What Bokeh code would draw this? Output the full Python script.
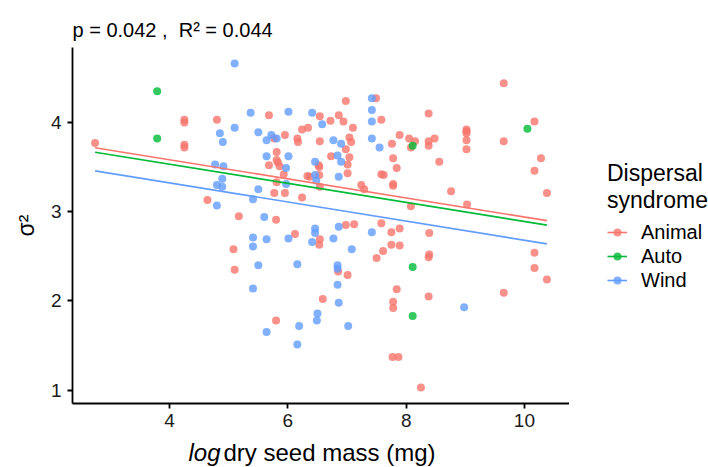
import numpy as np
from bokeh.plotting import figure
from bokeh.layouts import column, row
from bokeh.models import Range1d, Label, Legend, LegendItem, FixedTicker
from bokeh.embed import file_html
from bokeh.resources import INLINE

# ---------------- data ----------------
animal_x = [2.74, 4.25, 4.25, 4.80, 4.25, 4.25, 4.64, 5.17, 5.68, 6.54, 6.72, 6.86, 6.94, 6.98,
            7.10, 7.49, 7.58, 5.77, 5.95, 6.16, 6.17, 6.24, 6.34, 6.54, 7.04, 7.07, 6.98, 7.04,
            7.01, 7.01, 6.73, 7.76, 7.89, 7.78, 7.84, 7.58, 7.62, 7.78, 7.78, 5.81, 5.81, 5.83,
            5.68, 5.86, 5.93, 5.81, 5.77, 5.95, 6.24, 6.52, 6.53, 6.53, 6.33, 6.37, 6.54, 7.24,
            7.29, 5.80, 9.65, 8.38, 10.17, 9.02, 9.02, 9.02, 9.02, 9.65, 9.02, 8.05, 8.15, 8.08,
            8.38, 8.38, 8.48, 8.56, 10.28, 10.17, 8.76, 10.38, 9.03, 8.08, 5.08, 5.10, 6.12, 6.54,
            6.53, 6.98, 7.12, 7.58, 7.75, 7.89, 7.75, 7.61, 7.50, 6.85, 7.01, 6.59, 7.84, 7.78,
            7.78, 5.80, 7.77, 7.87, 8.39, 7.89, 8.39, 8.38, 8.38, 9.65, 10.17, 10.17, 10.38, 8.25]
animal_y = [3.77, 4.03, 4.00, 4.03, 3.75, 3.72, 3.13, 2.95, 4.08, 4.07, 4.02, 4.08, 4.01, 4.24,
            3.94, 4.27, 4.03, 3.82, 3.86, 3.82, 3.78, 3.92, 3.94, 3.79, 3.83, 3.78, 3.70, 3.61,
            3.53, 3.43, 3.62, 3.76, 3.86, 3.60, 3.49, 3.42, 3.41, 3.31, 3.29, 3.67, 3.58, 3.55,
            3.52, 3.51, 3.42, 3.33, 3.21, 3.21, 3.16, 3.52, 3.50, 3.41, 3.40, 3.39, 3.28, 3.30,
            3.25, 2.91, 4.44, 4.10, 4.01, 3.92, 3.90, 3.88, 3.80, 3.79, 3.70, 3.82, 3.79, 3.72,
            3.79, 3.74, 3.82, 3.56, 3.60, 3.46, 3.23, 3.21, 3.08, 3.06, 2.58, 2.35, 2.75, 2.69,
            2.63, 2.85, 2.86, 2.87, 2.77, 2.81, 2.63, 2.56, 2.48, 2.33, 2.29, 2.02, 2.13, 1.99,
            1.92, 1.78, 1.37, 1.37, 2.76, 2.62, 2.52, 2.49, 2.05, 2.09, 2.54, 2.37, 2.24, 1.03]

auto_x = [3.79, 3.79, 10.05, 8.11, 8.11, 8.11]
auto_y = [4.35, 3.82, 3.93, 3.74, 2.38, 1.83]

wind_x = [5.10, 4.85, 5.10, 4.90, 4.77, 4.91, 4.89, 4.80, 4.89, 4.80, 5.37, 6.01, 6.41, 6.58,
          7.42, 7.42, 7.42, 5.50, 5.64, 5.72, 5.81, 6.77, 6.90, 6.84, 6.90, 7.42, 7.55, 5.64,
          6.01, 5.97, 5.97, 5.50, 5.41, 6.46, 6.46, 6.48, 6.86, 5.60, 5.41, 5.41, 5.64, 6.01,
          6.46, 6.46, 6.41, 6.77, 6.86, 7.08, 7.42, 5.50, 6.16, 6.84, 6.84, 5.41, 6.84, 6.86,
          6.50, 6.49, 5.64, 6.19, 7.02, 6.16, 8.98]
wind_y = [4.66, 3.88, 3.94, 3.78, 3.53, 3.51, 3.37, 3.30, 3.28, 3.07, 4.11, 4.12, 4.11, 3.98,
          4.27, 4.14, 4.01, 3.89, 3.80, 3.86, 3.82, 3.80, 3.76, 3.63, 3.56, 3.82, 3.72, 3.62,
          3.62, 3.49, 3.31, 3.25, 3.14, 3.56, 3.41, 3.35, 3.39, 2.94, 2.71, 2.61, 2.69, 2.70,
          2.81, 2.76, 2.66, 2.70, 2.83, 2.58, 2.77, 2.40, 2.41, 2.40, 2.36, 2.14, 2.18, 1.98,
          1.86, 1.78, 1.65, 1.72, 1.72, 1.51, 1.93]

groups = ["Animal", "Auto", "Wind"]
fit_slope = -0.107
fit_intercepts = [4.01, 3.96, 3.75]   # Animal, Auto, Wind

x_ticks = [4, 6, 8, 10]
y_ticks = [1, 2, 3, 4]

title_text = "p = 0.042 ,\u00a0\u00a0R\u00b2 = 0.044"
x_label_italic = "log"
x_label_rest = "dry seed mass (mg)"
y_label = "\u03c3\u00b2"
legend_title = "Dispersal\nsyndrome"

# ---------------- styling ----------------
colors = ["#F8766D", "#00BA38", "#619CFF"]
FONT = "Liberation Sans"
W, H = 708, 467
LAB_H = 32                      # strip under the plot for the x-axis title
L, R, T, B = 72, 139, 47, 32
FW, FH = W - L - R, H - LAB_H - T - B
TOP_H = H - LAB_H
X0, X1 = 2.358, 10.762
Y0, Y1 = 0.85, 4.84

xs_all = [animal_x, auto_x, wind_x]
ys_all = [animal_y, auto_y, wind_y]
xmin = min(min(a) for a in xs_all)
xmax = max(max(a) for a in xs_all)


def add_series(fig):
    """Points and fitted lines of each group; returns (line, scatter) per group."""
    out = []
    for xs, ys, b0, c in zip(xs_all, ys_all, fit_intercepts, colors):
        sc = fig.scatter(xs, ys, size=8, fill_color=c, fill_alpha=0.8, line_color=None)
        out.append(sc)
    res = []
    for (b0, c), sc in zip(zip(fit_intercepts, colors), out):
        ln = fig.line([xmin, xmax], [b0 + fit_slope * xmin, b0 + fit_slope * xmax],
                      line_color=c, line_width=1.6)
        res.append((ln, sc))
    return res


# ---------------- main plot ----------------
p = figure(frame_width=FW, frame_height=FH, x_range=Range1d(X0, X1), y_range=Range1d(Y0, Y1),
           output_backend="svg", toolbar_location=None, frame_align=False,
           min_border_left=L, min_border_right=0, min_border_top=T, min_border_bottom=B)
p.outline_line_color = None
p.xgrid.visible = False
p.ygrid.visible = False

p.title.text = title_text
p.title.text_font = FONT
p.title.text_font_size = "20px"
p.title.text_font_style = "normal"
p.title.text_color = "black"
p.title.align = "left"
p.title.standoff = 14

for ax in (p.xaxis[0], p.yaxis[0]):
    ax.axis_line_color = "black"
    ax.axis_line_width = 1.8
    ax.major_tick_line_color = "black"
    ax.major_tick_line_width = 1.8
    ax.major_tick_out = 5
    ax.major_tick_in = 0
    ax.minor_tick_line_color = None
    ax.major_label_text_font = FONT
    ax.major_label_text_font_size = "19px"
    ax.major_label_text_color = "#1a1a1a"
p.xaxis.ticker = FixedTicker(ticks=x_ticks)
p.yaxis.ticker = FixedTicker(ticks=y_ticks)
p.xaxis.major_label_standoff = 5
p.yaxis.major_label_standoff = 6
p.yaxis.axis_label = y_label
p.yaxis.axis_label_text_font = FONT
p.yaxis.axis_label_text_font_size = "23px"
p.yaxis.axis_label_text_font_style = "normal"
p.yaxis.axis_label_text_color = "black"
p.yaxis.axis_label_standoff = 9

add_series(p)

# ---------------- legend panel (its own small figure to the right) ----------------
# The same series are drawn here only as legend keys; the ranges keep them out of view.
leg = figure(frame_width=R, frame_height=TOP_H, x_range=Range1d(100, 101), y_range=Range1d(100, 101),
             output_backend="svg", toolbar_location=None, x_axis_type=None, y_axis_type=None,
             frame_align=False, min_border=0)
leg.outline_line_color = None
leg.xgrid.visible = False
leg.ygrid.visible = False
keys = add_series(leg)
items = [LegendItem(label=g, renderers=[ln, sc]) for g, (ln, sc) in zip(groups, keys)]
legend = Legend(items=items, location=(607 - (W - R), TOP_H - 292), padding=0, margin=0, spacing=0,
                glyph_width=20, glyph_height=24, label_height=24, label_standoff=14,
                label_text_font=FONT, label_text_font_size="20px", label_text_color="black",
                title=legend_title, title_text_font=FONT, title_text_font_size="23px",
                title_text_font_style="normal", title_text_color="black", title_standoff=6,
                border_line_alpha=0, background_fill_alpha=0)
leg.add_layout(legend, "center")

# ---------------- strip holding the x-axis title (part italic, part upright) ----------------
lab = figure(frame_width=W, frame_height=LAB_H, x_range=Range1d(0, W), y_range=Range1d(LAB_H, 0),
             output_backend="svg", toolbar_location=None, x_axis_type=None, y_axis_type=None,
             frame_align=False, min_border=0)
lab.outline_line_color = None
lab.xgrid.visible = False
lab.ygrid.visible = False
base = 452 - TOP_H
lab.add_layout(Label(x=220, y=base, text=x_label_italic, text_font=FONT,
                     text_font_style="italic", text_font_size="24px", text_align="right",
                     text_baseline="alphabetic", text_color="black"))
lab.add_layout(Label(x=223, y=base, text=x_label_rest, text_font=FONT,
                     text_font_size="24px", text_align="left",
                     text_baseline="alphabetic", text_color="black"))

layout = column(row(p, leg, spacing=0), lab, spacing=0)
open("out.html", "w").write(file_html(layout, INLINE))
